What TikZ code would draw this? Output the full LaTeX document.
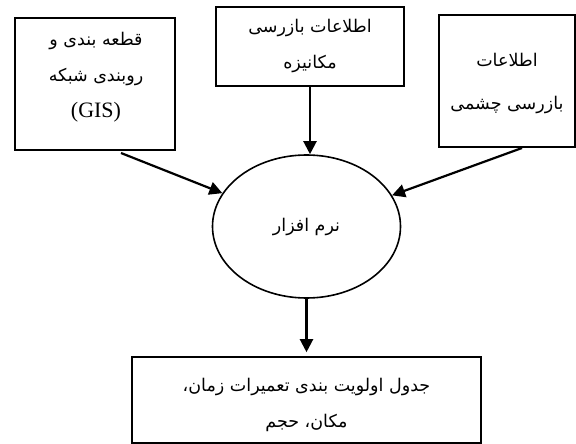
\documentclass[tikz,border=0pt]{standalone}
\usepackage{fontspec}
\usetikzlibrary{arrows.meta,shapes.geometric}
\TeXXeTstate=1
\setmainfont{Liberation Serif}
\newfontfamily\arabicfont[Script=Arabic]{DejaVu Sans}
\begin{document}
\begin{tikzpicture}[x=1pt,y=-1pt,
  box/.style={draw,line width=1.6pt,inner sep=0pt},
  lbl/.style={align=center,inner sep=0pt,font=\arabicfont\fontsize{17.5}{36}\selectfont},
  arr/.style={line width=2.2pt,-{Triangle[length=13pt,width=13pt]}}]
\useasboundingbox (0,0) rectangle (576,444);
% boxes
\node[box,minimum width=160pt,minimum height=132pt] (b1) at (95,84) {};
\node[box,minimum width=188pt,minimum height=79pt] (b2) at (310,46.5) {};
\node[box,minimum width=136pt,minimum height=132pt] (b3) at (507,81) {};
\node[draw,ellipse,line width=1.6pt,minimum width=188pt,minimum height=143pt,inner sep=0pt] (ell) at (306.5,226.5) {};
\node[box,minimum width=349pt,minimum height=86pt] (b4) at (306.5,400) {};
% labels
\node[lbl] (t1) at (96,77) {\beginR قطعه بندی و\endR\\ \beginR روبندی شبکه\endR\\ {\rmfamily\fontsize{22}{36}\selectfont (GIS)}};
\node[lbl] (t2) at (310,45.5) {\beginR اطلاعات بازرسی\endR\\ \beginR مکانیزه\endR};
\node[lbl,font=\arabicfont\fontsize{17.5}{43}\selectfont] (t3) at (507,83.5) {\beginR اطلاعات\endR\\ \beginR بازرسی چشمی\endR};
\node[lbl] (t4) at (ell.center) {\beginR نرم افزار\endR};
\node[lbl] (t5) at (306.5,404.5) {\beginR جدول اولویت بندی تعمیرات زمان،\endR\\ \beginR مکان، حجم\endR};
% connector start points
\coordinate (s1) at (121,153);
\coordinate (s3) at (522,148);
% arrows
\draw[arr] (s1) -- (ell);
\draw[arr] (s3) -- (ell);
\draw[arr] (b2.south) -- (b2.south |- ell.north);
\draw[arr] (ell.south) -- ([yshift=4pt]b4.north);
\end{tikzpicture}
\end{document}
